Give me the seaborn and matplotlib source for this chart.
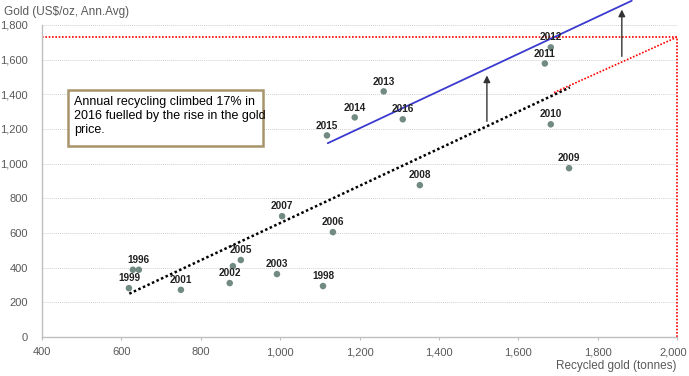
import pandas as pd
import matplotlib.pyplot as plt
from matplotlib.patches import Rectangle
from matplotlib.ticker import FuncFormatter
from matplotlib.transforms import ScaledTranslation
import seaborn as sns

# recycled gold (tonnes) vs annual average gold price (US$/oz)
recycled = [629, 644, 1108, 619, 750, 873, 992, 881, 901, 1133,
            1005, 1352, 1728, 1682, 1667, 1682, 1261, 1188, 1118, 1309]
price = [388, 388, 294, 282, 272, 311, 363, 409, 444, 605,
         697, 876, 974, 1227, 1578, 1671, 1417, 1267, 1163, 1256]
year_labels = ["", "1996", "1998", "1999", "2001", "2002", "2003", "", "2005", "2006",
               "2007", "2008", "2009", "2010", "2011", "2012", "2013", "2014", "2015", "2016"]

# trend lines
trend_x = [620, 1730]
trend_y = [250, 1440]
trend_ext_x = [1690, 2000]
trend_ext_y = [1410, 1730]
shift_x = [1120, 1886]
shift_y = [1118, 1940]
corner_x = 2000
corner_y = 1730

# arrows (x, y from, y to)
arrows = [(1521, 1244, 1509), (1861, 1619, 1889)]

xticks = list(range(400, 2001, 200))
yticks = list(range(0, 1801, 200))

sns.set_style("white")
plt.rcParams['font.family'] = ['Liberation Sans', 'DejaVu Sans']

df = pd.DataFrame({"recycled": recycled, "price": price, "label": year_labels})

fig = plt.figure(figsize=(6.89, 3.76), dpi=100)
ax = fig.add_axes([42/689, 1 - 337/376, 635/689, 312/376])

# gridlines
for yv in yticks[1:]:
    ax.axhline(yv, color="#d0d0d0", linestyle=(0, (1, 1)), lw=0.7, zorder=0)

# trend + extension + shifted line
ax.plot(trend_x, trend_y, color="black", linestyle=(0, (1, 1)), lw=1.8, zorder=2)
ax.plot(trend_ext_x, trend_ext_y, color="red", linestyle=(0, (1, 1)), lw=1.2, zorder=2)
ax.plot([400, corner_x], [corner_y, corner_y], color="red", linestyle=(0, (1, 1)), lw=1.2, zorder=2)
ax.plot([corner_x, corner_x], [0, corner_y], color="red", linestyle=(0, (1, 1)), lw=1.2,
        zorder=2, clip_on=False)
ax.plot(shift_x, shift_y, color="#3a3ad0", lw=1.3, zorder=2, clip_on=False)

for ax_x, y0, y1 in arrows:
    ax.annotate("", xy=(ax_x, y1), xytext=(ax_x, y0), annotation_clip=False,
                arrowprops=dict(arrowstyle="-|>", color="#333333", lw=1.0,
                                mutation_scale=10, shrinkA=0, shrinkB=0))

sns.scatterplot(data=df, x="recycled", y="price", ax=ax, color="#718b82",
                s=22, edgecolor="none", zorder=3, legend=False)

for _, row in df.iterrows():
    if row["label"]:
        ax.annotate(row["label"], (row["recycled"], row["price"]), xytext=(0, 3.5),
                    textcoords="offset points", ha="center", va="bottom",
                    fontsize=7.2, fontweight="bold", color="#222222", zorder=4)

ax.set_xlim(400, 2000)
ax.set_ylim(0, 1800)
ax.set_xticks(xticks)
ax.set_yticks(yticks)
fmt = FuncFormatter(lambda v, p: f"{int(v):,}")
ax.xaxis.set_major_formatter(fmt)
ax.yaxis.set_major_formatter(fmt)
ax.tick_params(axis="y", length=0, pad=10, labelsize=8, labelcolor="#595959")
ax.tick_params(axis="x", length=2.5, width=0.8, color="#bfbfbf", pad=5,
               labelsize=8, labelcolor="#595959", bottom=True)

# nudge the last x tick label so it stays inside the figure
last = ax.get_xticklabels()[-1]
last.set_transform(last.get_transform() + ScaledTranslation(-4/100, 0, fig.dpi_scale_trans))

for side in ["top", "right"]:
    ax.spines[side].set_visible(False)
for side in ["left", "bottom"]:
    ax.spines[side].set_color("#bfbfbf")
    ax.spines[side].set_linewidth(1.0)

ax.set_xlabel("Recycled gold (tonnes)", loc="right", fontsize=8.5, color="#595959", labelpad=2)
ax.set_ylabel("")
fig.text(4/689, 1 - 12/376, "Gold (US$/oz, Ann.Avg)", fontsize=8.5, color="#595959",
         ha="left", va="center")

# commentary box
fig.patches.append(Rectangle((68/689, 1 - 146/376), 195/689, 56/376, transform=fig.transFigure,
                             facecolor="white", edgecolor="#a8946a", lw=1.8, zorder=5))
fig.text(74/689, 1 - 96/376,
         "Annual recycling climbed 17% in\n2016 fuelled by the rise in the gold\nprice.",
         fontsize=9, color="black", ha="left", va="top", linespacing=1.2, zorder=6)

fig.savefig("out.png", dpi=100)
